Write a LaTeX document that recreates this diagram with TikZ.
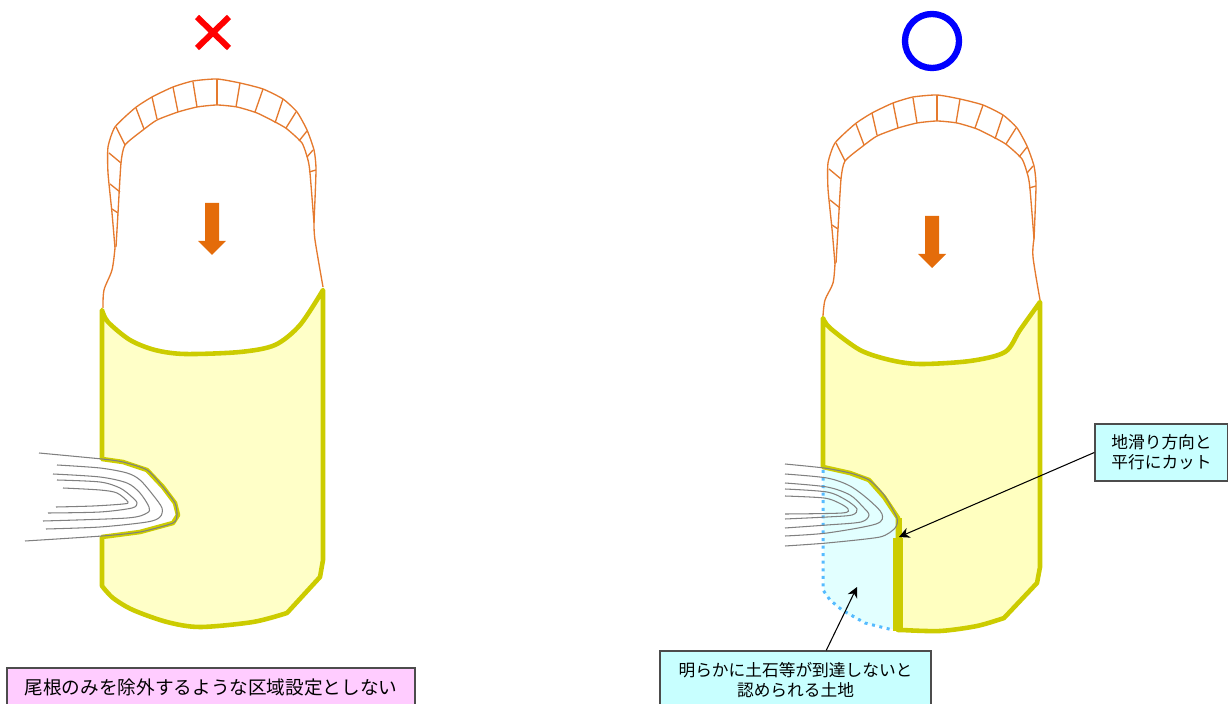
\documentclass[tikz,border=0pt]{standalone}
\usepackage{fontspec}
\usepackage{xcolor}
\usetikzlibrary{arrows.meta}
\newfontfamily\jpfont{Noto Sans CJK JP}
\definecolor{scarpcol}{HTML}{E57A2E}
\definecolor{slipcol}{HTML}{E46C0A}
\definecolor{zonecol}{HTML}{CCCC00}
\definecolor{zonefill}{HTML}{FFFFC8}
\definecolor{zonefilltwo}{HTML}{FFFFC0}
\definecolor{safefill}{HTML}{E2FFFF}
\definecolor{dotcol}{HTML}{55BBFF}
\definecolor{notecyan}{HTML}{C8FFFF}
\definecolor{notepink}{HTML}{FFCCFF}
\tikzset{
	scarpline/.style = {draw = scarpcol, line width = 0.38pt, line join = round},
	zoneline/.style = {draw = zonecol, line width = 1.3pt, line join = round},
	contour/.style = {draw = black!50, line width = 0.3pt},
	notebox/.style = {draw = black!70, line width = 0.4pt, align = center, font = \jpfont\fontsize{4.75}{5.7}\selectfont, inner sep = 0pt},
	leader/.style = {draw = black, line width = 0.3pt, -{Stealth[length = 3pt, width = 3pt]}}
}
% scarp band with its cross ticks
\newcommand{\scarpband}{
	\draw[scarpline] plot[smooth, tension = 0.35] coordinates {(115,248) (112,213) (108,173) (108,147) (115,127) (135,108) (152,97) (173,87) (193,81) (217,79) (240,83) (263,89) (283,99) (297,112) (307,130) (314,150) (316,170) (314,223)};
	\draw[scarpline] plot[smooth, tension = 0.35] coordinates {(116,247) (118,213) (121,163) (125,145) (143,130) (157,120) (178,112) (197,107) (217,105) (237,107) (257,113) (277,123) (287,129) (302,143) (308,160) (310,173) (314,223)};
	\foreach \xa/\ya/\xb/\yb in {116/127/125/145, 136/108/144/129, 152/97/157/119, 173/87/178/112, 193/82/197/107, 217/79/217/105, 240/83/236/107, 263/89/255/112, 283/99/275/123, 296/112/286/128, 307/131/299/141, 313/150/307/157, 316/170/309/172, 109/153/121/163, 110/184/120/192, 112/209/118/213}
		\draw[scarpline] (\xa,\ya) -- (\xb,\yb);
}
% block arrow for the slide direction, tip at (0,0)
\newcommand{\slipmark}{
	\fill[slipcol] (-7,-52) -- (7,-52) -- (7,-14) -- (14,-14) -- (0,0) -- (-14,-14) -- (-7,-14) -- cycle;
}
\begin{document}
\begin{tikzpicture}[x = 0.01cm, y = -0.01cm]
	\useasboundingbox (0,0) rectangle (1228,704);

	% left figure
	\draw[red, line width = 1.7pt] (197,17) -- (229,48) (229,17) -- (197,48);
	\scarpband
	\draw[scarpline] plot[smooth, tension = 0.5] coordinates {(115,248) (112,270) (104,290) (103,308)};
	\draw[scarpline] plot[smooth, tension = 0.5] coordinates {(314,223) (315,240) (323,287)};
	\begin{scope}[shift = {(212,255)}]
		\slipmark
	\end{scope}
	\filldraw[zoneline, fill = zonefill] plot[smooth, tension = 0.5] coordinates {(102,310) (108,322) (130,340) (155,350) (185,354) (240,352) (275,345) (300,325) (323,290)} -- (323,560) -- (320,577) -- plot[smooth, tension = 0.5] coordinates {(287,613) (253,622) (200,627) (167,622) (133,610) (113,598) (102,586)} -- (102,537) -- (140,532) -- (173,523) -- (178,515) -- (175,503) -- (163,487) -- (147,470) -- (123,462) -- (102,459) -- cycle;
	\draw[contour] plot[smooth, tension = 0.4] coordinates {(39,453) (102,459) (123,462) (147,470) (163,487) (175,503) (177,515) (173,523) (140,532) (102,536) (25,541)};
	\draw[contour] plot[smooth, tension = 0.5] coordinates {(57,465) (100,468) (127,473) (140,480) (153,495) (162,508) (160,517) (147,522) (100,527) (46,529)};
	\draw[contour] plot[smooth, tension = 0.5] coordinates {(53,474) (100,477) (127,483) (140,493) (149,507) (147,513) (127,518) (43,521)};
	\draw[contour] plot[smooth, tension = 0.5] coordinates {(57,480) (100,482) (120,488) (132,497) (137,503) (132,508) (100,512) (48,513)};
	\draw[contour] plot[smooth, tension = 0.5] coordinates {(63,488) (100,490) (117,493) (128,502) (123,504) (93,506) (56,507)};

	% right figure
	\draw[blue, line width = 1.8pt] (932,41) circle (0.27cm);
	\begin{scope}[shift = {(720,16)}]
		\scarpband
	\end{scope}
	\draw[scarpline] plot[smooth, tension = 0.5] coordinates {(835,263) (833,283) (825,300) (823,316)};
	\draw[scarpline] plot[smooth, tension = 0.5] coordinates {(1034,239) (1033,257) (1040,300)};
	\begin{scope}[shift = {(932,268)}]
		\slipmark
	\end{scope}
	\fill[safefill] (823,467) -- (850,473) -- (869,480) -- (884,497) -- (897,518) -- (897,630) -- (865,623) -- (842,612) -- (824,593) -- cycle;
	\filldraw[zoneline, fill = zonefilltwo] plot[smooth, tension = 0.5] coordinates {(823,318) (830,328) (860,350) (890,360) (920,364) (970,361) (1005,352) (1020,330) (1040,302)} -- (1040,567) -- (1037,583) -- plot[smooth, tension = 0.5] coordinates {(1004,618) (977,626) (940,631) (902,630)} -- (898,630) -- (898,518) -- (884,497) -- (869,480) -- (850,473) -- (823,467) -- cycle;
	\draw[draw = zonecol, line width = 1.4pt] (900,518) -- (900,538);
	\draw[draw = zonecol, line width = 2.8pt] (898,538) -- (898,631);
	\draw[dotcol, line width = 0.85pt, dash pattern = on 0.85pt off 1.3pt] (823,470) -- (823,590) -- (830,600) -- (842,610) -- (865,623) -- (893,630);
	\draw[contour] plot[smooth, tension = 0.4] coordinates {(785,464) (824,468) (850,473) (869,480) (884,495) (897,518) (895,528) (880,537) (827,543) (785,546)};
	\draw[contour] plot[smooth, tension = 0.5] coordinates {(785,474) (827,478) (850,486) (869,500) (882,514) (876,524) (827,533) (785,536)};
	\draw[contour] plot[smooth, tension = 0.5] coordinates {(785,483) (827,487) (850,495) (863,507) (869,515) (861,522) (827,525) (785,528)};
	\draw[contour] plot[smooth, tension = 0.5] coordinates {(785,489) (827,492) (846,500) (857,509) (852,515) (827,517) (785,519)};
	\draw[contour] plot[smooth, tension = 0.5] coordinates {(785,496) (824,498) (839,503) (848,509) (842,513) (785,514)};

	% notes and their leaders
	\node[notebox, fill = notepink, font = \jpfont\fontsize{5.3}{6}\selectfont, minimum width = 408 * 0.01cm, minimum height = 42 * 0.01cm] (ridgenote) at (211,689) {\raisebox{1.6pt}{尾根のみを除外するような区域設定としない}};
	\node[notebox, fill = notecyan, minimum width = 133 * 0.01cm, minimum height = 57 * 0.01cm] (cutnote) at (1161.5,452.5) {地滑り方向と\\平行にカット};
	\node[notebox, fill = notecyan, minimum width = 271 * 0.01cm, minimum height = 58 * 0.01cm] (landnote) at (795.5,680) {明らかに土石等が到達しないと\\認められる土地};
	\coordinate (cuttip) at (899,537);
	\coordinate (landtip) at (857,587);
	\draw[leader] (cutnote.west) -- (cuttip);
	\draw[leader] (landnote.44) -- (landtip);
\end{tikzpicture}
\end{document}
